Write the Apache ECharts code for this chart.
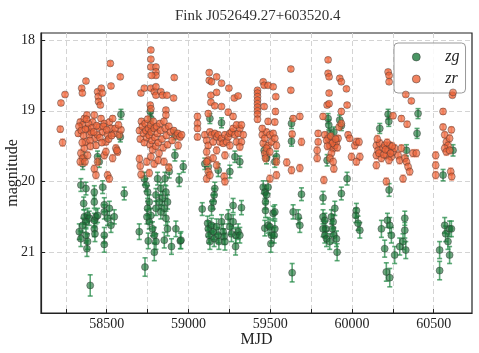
<!DOCTYPE html>
<html>
<head>
<meta charset="utf-8">
<script src="https://cdn.jsdelivr.net/npm/echarts@6/dist/echarts.min.js"></script>
<style>
	html, body { margin: 0; padding: 0; background: #fff; }
	#chart { width: 479px; height: 353px; }
</style>
</head>
<body>
<div id="chart"></div>
<script>
	var chartTitle = 'Fink J052649.27+603520.4';
	var xTicks = [58250, 58500, 58750, 59000, 59250, 59500, 59750, 60000, 60250, 60500];
	var xLabels = [58500, 59000, 59500, 60000, 60500];
	var yTicks = [18, 19, 20, 21];

	// [MJD, magnitude, error]
	var zg = [
		[58587,19.05,0.07],[58583,19.37,0.07],[58353,19.75,0.08],[58359,19.67,0.08],[58444,19.65,0.08],[58454,19.72,0.08],
		[58342,20.05,0.09],[58373,20.10,0.09],[58424,20.15,0.09],[58475,20.08,0.09],[58607,20.17,0.09],[58359,20.31,0.09],
		[58424,20.29,0.09],[58485,20.33,0.10],[58516,20.38,0.10],[58363,20.50,0.10],[58383,20.48,0.10],[58393,20.52,0.10],
		[58373,20.57,0.10],[58353,20.62,0.10],[58424,20.55,0.10],[58434,20.50,0.10],[58444,20.48,0.10],[58485,20.43,0.10],
		[58505,20.52,0.10],[58526,20.62,0.10],[58546,20.50,0.10],[58332,20.71,0.11],[58342,20.81,0.11],[58373,20.76,0.11],
		[58383,20.85,0.11],[58379,20.95,0.11],[58424,20.67,0.11],[58428,20.74,0.11],[58485,20.76,0.11],[58485,20.89,0.11],
		[58399,21.47,0.15],
		[58766,19.01,0.07],[58770,19.11,0.07],[58770,19.25,0.07],[58913,19.34,0.07],[58943,19.98,0.09],[58730,19.96,0.09],
		[58740,20.05,0.09],[58750,20.15,0.09],[58760,20.29,0.10],[58750,20.38,0.10],[58770,20.48,0.10],[58760,20.57,0.10],
		[58780,20.67,0.10],[58791,20.76,0.11],[58801,20.85,0.11],[58791,21.00,0.12],[58734,21.21,0.13],[58699,20.71,0.11],
		[58746,20.50,0.10],[58754,20.84,0.11],[58811,19.96,0.09],[58831,20.10,0.09],[58841,20.24,0.10],[58852,20.38,0.10],
		[58862,20.52,0.10],[58872,20.67,0.10],[58852,20.83,0.11],[58896,20.92,0.11],[58923,20.67,0.11],[58950,20.84,0.11],
		[58856,19.96,0.09],[58862,20.15,0.09],[58872,20.29,0.10],[58882,19.86,0.09],[58801,20.19,0.09],[58801,20.38,0.10],
		[58821,20.29,0.10],[58831,20.43,0.10],[58917,19.63,0.08],[58968,19.79,0.08],[58954,20.83,0.12],
		[59131,19.11,0.07],[59202,19.17,0.07],[59284,19.65,0.08],[59314,19.72,0.08],[59253,19.86,0.09],[59182,19.84,0.09],
		[59100,19.75,0.08],[59121,19.79,0.08],[59161,20.10,0.09],[59157,20.19,0.09],[59151,20.29,0.10],[59141,20.38,0.10],
		[59084,20.39,0.09],[59273,20.34,0.10],[59324,20.37,0.10],[59117,20.59,0.10],[59121,20.67,0.11],[59125,20.76,0.11],
		[59131,20.85,0.11],[59141,20.62,0.10],[59151,20.71,0.11],[59157,20.81,0.11],[59172,20.64,0.11],[59182,20.76,0.11],
		[59186,20.85,0.11],[59202,20.57,0.10],[59212,20.71,0.11],[59218,20.78,0.11],[59223,20.85,0.12],[59243,20.50,0.10],
		[59253,20.64,0.11],[59263,20.74,0.11],[59273,20.57,0.10],[59290,20.76,0.11],[59304,20.71,0.11],[59314,20.76,0.11],
		[59288,20.92,0.12],
		[59463,19.56,0.08],[59477,19.63,0.08],[59477,19.67,0.08],[59528,19.72,0.08],[59538,19.65,0.08],[59457,20.08,0.09],
		[59467,20.15,0.09],[59477,20.19,0.09],[59487,20.08,0.09],[59471,20.29,0.10],[59471,20.41,0.10],[59518,20.45,0.10],
		[59528,20.43,0.10],[59467,20.66,0.11],[59487,20.62,0.11],[59498,20.64,0.11],[59508,20.76,0.11],[59528,20.67,0.11],
		[59524,20.76,0.11],[59504,20.88,0.12],[59630,19.18,0.07],[59630,19.43,0.07],[59691,20.18,0.09],[59640,20.43,0.10],
		[59671,20.50,0.10],[59681,20.62,0.10],[59634,21.29,0.13],
		[59854,19.11,0.07],[59858,19.20,0.07],[59864,19.32,0.07],[59889,19.30,0.07],[59925,19.13,0.07],[59935,19.21,0.07],
		[59848,19.70,0.08],[59970,19.96,0.09],[59935,20.17,0.09],[59823,20.23,0.09],[59823,20.50,0.10],[59834,20.55,0.10],
		[59840,20.67,0.11],[59834,20.76,0.11],[59844,20.81,0.11],[59874,20.50,0.10],[59885,20.57,0.10],[59895,20.38,0.10],
		[59880,20.67,0.11],[59889,20.76,0.11],[59905,20.81,0.11],[59909,21.00,0.12],[59864,20.85,0.11],[59823,20.67,0.11],
		[60027,20.41,0.10],[60023,20.48,0.10],[60037,20.59,0.10],[60048,20.69,0.11],
		[60170,19.25,0.07],[60221,19.05,0.07],[60225,19.15,0.07],[60404,19.04,0.07],[60398,19.32,0.07],[60333,19.56,0.08],
		[60227,20.12,0.09],[60180,20.67,0.12],[60217,20.55,0.10],[60231,20.62,0.11],[60200,20.95,0.12],[60241,20.76,0.11],
		[60210,21.28,0.13],[60231,21.36,0.13],[60261,21.04,0.12],[60292,20.92,0.12],[60323,20.52,0.10],[60323,20.69,0.11],
		[60312,20.85,0.11],[60329,20.97,0.12],
		[60557,19.91,0.08],[60618,19.56,0.08],[60567,20.62,0.11],[60573,20.74,0.11],[60587,20.85,0.11],[60597,20.67,0.11],
		[60608,20.67,0.11],[60597,21.04,0.12],[60536,20.97,0.12],[60536,21.26,0.13]
	];

	var zr = [
		[58220,18.89,0.03],[58245,18.77,0.03],[58216,19.26,0.04],[58230,19.45,0.05],[58347,18.68,0.03],[58351,18.75,0.03],
		[58373,18.58,0.03],[58444,18.73,0.03],[58448,18.80,0.03],[58450,18.87,0.03],[58461,18.92,0.03],[58467,18.68,0.03],
		[58473,18.75,0.03],[58522,18.33,0.03],[58526,18.65,0.03],[58583,18.52,0.03],
		[58326,19.32,0.04],[58338,19.16,0.04],[58353,19.20,0.04],[58363,19.11,0.04],[58379,19.06,0.04],[58383,19.25,0.04],
		[58393,19.34,0.04],[58404,19.30,0.04],[58414,19.16,0.04],[58424,19.06,0.04],[58428,19.39,0.04],[58434,19.49,0.04],
		[58444,19.34,0.04],[58454,19.23,0.04],[58465,19.11,0.04],[58475,19.30,0.04],[58485,19.18,0.04],[58495,19.44,0.04],
		[58505,19.34,0.04],[58516,19.16,0.04],[58526,19.25,0.04],[58536,19.11,0.04],[58546,19.32,0.04],[58556,19.53,0.05],
		[58566,19.58,0.05],[58577,19.34,0.04],[58587,19.27,0.04],[58342,19.60,0.05],[58353,19.67,0.05],[58363,19.53,0.05],
		[58373,19.44,0.04],[58424,19.82,0.05],[58434,19.91,0.05],[58444,19.72,0.05],[58485,19.63,0.05],[58495,19.58,0.05],
		[58505,19.91,0.05],[58516,19.96,0.05],[58536,19.67,0.05],[58562,19.56,0.05],[58383,19.63,0.05],[58338,19.72,0.05],
		[58367,19.72,0.05],[58330,19.22,0.04],[58345,19.28,0.04],[58358,19.35,0.04],[58370,19.26,0.04],[58388,19.18,0.04],
		[58398,19.42,0.04],[58410,19.24,0.04],[58420,19.30,0.04],[58438,19.21,0.04],[58458,19.38,0.04],[58470,19.45,0.04],
		[58480,19.22,0.04],[58500,19.27,0.04],[58512,19.40,0.04],[58530,19.35,0.04],[58552,19.25,0.04],[58572,19.20,0.04],
		[58400,19.50,0.05],[58376,19.12,0.04],[58350,19.45,0.05],
		[58770,18.14,0.03],[58770,18.27,0.03],[58770,18.38,0.03],[58801,18.38,0.03],[58801,18.45,0.03],[58801,18.50,0.03],
		[58774,18.50,0.03],[58709,18.75,0.03],[58730,18.68,0.03],[58770,18.68,0.03],[58791,18.73,0.03],[58801,18.66,0.03],
		[58801,18.78,0.03],[58831,18.73,0.03],[58841,18.78,0.03],[58868,18.78,0.03],[58913,18.53,0.03],[58909,18.82,0.03],
		[58766,18.92,0.03],[58770,18.97,0.03],[58862,18.99,0.03],[58862,19.06,0.04],
		[58700,19.28,0.04],[58705,19.40,0.04],[58712,19.15,0.04],[58718,19.22,0.04],[58725,19.32,0.04],[58730,19.45,0.04],
		[58735,19.18,0.04],[58740,19.28,0.04],[58745,19.38,0.04],[58750,19.12,0.04],[58755,19.25,0.04],[58760,19.35,0.04],
		[58765,19.48,0.04],[58768,19.20,0.04],[58772,19.30,0.04],[58776,19.42,0.04],[58780,19.55,0.05],[58785,19.15,0.04],
		[58790,19.25,0.04],[58795,19.38,0.04],[58800,19.50,0.04],[58805,19.22,0.04],[58810,19.32,0.04],[58815,19.45,0.04],
		[58820,19.60,0.05],[58825,19.18,0.04],[58830,19.28,0.04],[58838,19.40,0.04],[58845,19.52,0.05],[58850,19.15,0.04],
		[58858,19.25,0.04],[58865,19.35,0.04],[58872,19.48,0.04],[58880,19.22,0.04],[58890,19.30,0.04],[58900,19.42,0.04],
		[58910,19.28,0.04],[58925,19.35,0.04],[58700,19.68,0.05],[58705,19.78,0.05],[58745,19.72,0.05],[58770,19.65,0.05],
		[58790,19.75,0.05],[58815,19.70,0.05],[58850,19.72,0.05],[58880,19.80,0.05],[58710,19.90,0.05],[58760,19.88,0.05],
		[58935,19.32,0.04],[58948,19.37,0.04],[58958,19.34,0.04],[58937,19.49,0.05],
		[59127,18.46,0.03],[59127,18.57,0.03],[59141,18.59,0.03],[59172,18.52,0.03],[59202,18.61,0.03],[59247,18.68,0.03],
		[59280,18.82,0.03],[59304,18.79,0.03],[59137,18.78,0.03],[59137,18.88,0.03],[59172,18.74,0.03],[59161,18.93,0.03],
		[59202,18.94,0.03],[59243,19.02,0.04],[59273,19.08,0.04],[59055,19.08,0.04],[59055,19.18,0.04],[59055,19.25,0.04],
		[59055,19.37,0.04],[59121,19.04,0.04],
		[59100,19.34,0.04],[59111,19.42,0.04],[59121,19.49,0.04],[59131,19.30,0.04],[59141,19.34,0.04],[59151,19.44,0.04],
		[59161,19.32,0.04],[59172,19.37,0.04],[59182,19.34,0.04],[59192,19.44,0.04],[59202,19.39,0.04],[59212,19.46,0.04],
		[59223,19.34,0.04],[59233,19.44,0.04],[59243,19.37,0.04],[59253,19.32,0.04],[59263,19.30,0.04],[59273,19.25,0.04],
		[59284,19.34,0.04],[59294,19.44,0.04],[59304,19.32,0.04],[59314,19.25,0.04],[59324,19.44,0.04],[59335,19.34,0.04],
		[59314,19.51,0.05],[59111,19.58,0.05],[59121,19.70,0.05],[59151,19.67,0.05],[59111,19.72,0.05],[59172,19.56,0.05],
		[59223,19.63,0.05],[59253,19.49,0.05],[59294,19.20,0.04],[59324,19.20,0.04],[59111,19.96,0.05],[59121,19.86,0.05],
		[59131,19.91,0.05],[59218,19.93,0.05],[59223,20.00,0.05],[59172,19.77,0.05],
		[59422,18.71,0.03],[59422,18.75,0.03],[59422,18.80,0.03],[59422,18.85,0.03],[59422,18.90,0.03],[59422,18.95,0.03],
		[59422,19.00,0.03],[59422,19.05,0.03],[59422,19.12,0.04],[59457,18.59,0.03],[59463,18.64,0.03],[59487,18.64,0.03],
		[59518,18.66,0.03],[59534,18.80,0.03],[59463,18.94,0.03],[59532,19.01,0.04],[59487,19.15,0.04],[59528,19.16,0.04],
		[59451,19.34,0.04],[59457,19.46,0.04],[59467,19.39,0.04],[59477,19.30,0.04],[59487,19.49,0.04],[59498,19.34,0.04],
		[59508,19.44,0.04],[59518,19.32,0.04],[59528,19.39,0.04],[59467,19.60,0.05],[59471,19.67,0.05],[59477,19.53,0.05],
		[59498,19.58,0.05],[59538,19.49,0.05],[59451,19.25,0.04],[59498,19.96,0.05],[59538,19.72,0.05],[59538,19.91,0.05],
		[59626,18.41,0.03],[59626,18.71,0.03],[59640,19.11,0.04],[59681,19.08,0.04],[59634,19.33,0.04],[59691,19.44,0.05],
		[59601,19.73,0.05],[59630,19.84,0.05],[59681,19.81,0.05],
		[59854,18.28,0.03],[59854,18.47,0.03],[59860,18.52,0.03],[59925,18.54,0.03],[59935,18.59,0.03],[59966,18.69,0.03],
		[59860,18.75,0.03],[59848,18.92,0.03],[59860,18.90,0.03],[59970,18.92,0.03],[59935,19.01,0.04],[59823,19.08,0.04],
		[59921,19.23,0.04],[59935,19.18,0.04],[59793,19.32,0.04],[59793,19.44,0.04],[59787,19.56,0.05],[59787,19.67,0.05],
		[59834,19.34,0.04],[59854,19.39,0.04],[59864,19.49,0.04],[59874,19.44,0.04],[59885,19.53,0.05],[59895,19.49,0.04],
		[59905,19.44,0.04],[59915,19.39,0.04],[59874,19.60,0.05],[59864,19.67,0.05],[59885,19.72,0.05],[59889,19.82,0.05],
		[59976,19.34,0.04],[59986,19.39,0.04],[60017,19.49,0.05],[60027,19.44,0.05],[60043,19.44,0.05],[59997,19.65,0.05],
		[60048,19.65,0.05],[60027,19.72,0.05],[59828,19.98,0.05],[59845,19.42,0.04],[59870,19.36,0.04],[59880,19.46,0.04],
		[59900,19.40,0.04],[59910,19.52,0.05],[59850,19.50,0.05],
		[60221,18.45,0.03],[60227,18.50,0.03],[60227,18.59,0.03],[60329,18.77,0.03],[60363,18.86,0.03],[60251,19.07,0.04],
		[60302,19.11,0.04],[60337,19.19,0.04],[60149,19.49,0.05],[60149,19.63,0.05],[60149,19.77,0.05],[60160,19.56,0.05],
		[60170,19.46,0.05],[60180,19.67,0.05],[60190,19.53,0.05],[60200,19.49,0.05],[60210,19.63,0.05],[60221,19.56,0.05],
		[60231,19.49,0.05],[60241,19.65,0.05],[60251,19.58,0.05],[60261,19.53,0.05],[60282,19.63,0.05],[60292,19.70,0.05],
		[60302,19.53,0.05],[60323,19.67,0.05],[60333,19.72,0.05],[60343,19.79,0.05],[60353,19.86,0.05],[60312,19.96,0.05],
		[60373,19.60,0.05],[60394,19.60,0.05],[60210,20.00,0.05],[60155,19.40,0.05],[60165,19.60,0.05],[60195,19.62,0.05],
		[60205,19.55,0.05],[60215,19.45,0.05],[60226,19.70,0.05],[60236,19.60,0.05],[60246,19.50,0.05],
		[60557,19.01,0.04],[60614,18.78,0.03],[60618,18.74,0.03],[60557,19.23,0.04],[60567,19.34,0.04],[60577,19.44,0.05],
		[60587,19.49,0.05],[60597,19.39,0.05],[60567,19.53,0.05],[60577,19.58,0.05],[60597,19.56,0.05],[60512,19.63,0.05],
		[60512,19.77,0.05],[60512,19.91,0.05],[60604,19.86,0.05],[60610,19.93,0.05],[60608,19.27,0.04]
	];

	var serif = 'Liberation Serif';

	function errorBars(color, width) {
		return function(params, api) {
			var x = api.value(0);
			var y = api.value(1);
			var e = api.value(2);
			var top = api.coord([x, y - e]);
			var bot = api.coord([x, y + e]);
			var style = { stroke: color, lineWidth: width };
			return {
				type: 'group',
				children: [
					{ type: 'line', shape: { x1: top[0], y1: top[1], x2: bot[0], y2: bot[1] }, style: style },
					{ type: 'line', shape: { x1: top[0] - 2.5, y1: top[1], x2: top[0] + 2.5, y2: top[1] }, style: style },
					{ type: 'line', shape: { x1: bot[0] - 2.5, y1: bot[1], x2: bot[0] + 2.5, y2: bot[1] }, style: style }
				]
			};
		};
	}

	var chart = echarts.init(document.getElementById('chart'), null, { renderer: 'canvas' });

	var option = {
		animation: false,
		title: {
			text: chartTitle,
			left: 170,
			top: 4,
			textStyle: { fontFamily: serif, fontSize: 15, fontWeight: 'normal', color: '#333' }
		},
		legend: {
			orient: 'vertical',
			left: 394,
			top: 43,
			padding: [6, 6, 6, 18],
			itemGap: 6,
			itemWidth: 8,
			itemHeight: 8,
			borderColor: '#999',
			borderWidth: 1,
			borderRadius: 4,
			backgroundColor: 'rgba(255,255,255,0.85)',
			data: [
				{ name: 'zg', icon: 'circle', itemStyle: { color: '#1c7a3c', borderColor: '#333', borderWidth: 0.6 } },
				{ name: 'zr', icon: 'circle', itemStyle: { color: '#ee6438', borderColor: '#333', borderWidth: 0.6 } }
			],
			textStyle: { fontFamily: serif, fontStyle: 'italic', fontSize: 16, color: '#222', padding: [0, 0, 0, 20] }
		},
		grid: {
			left: 41,
			right: 7,
			top: 33,
			bottom: 40,
			outerBoundsMode: 'none',
			show: true,
			borderColor: '#222',
			borderWidth: 1.2,
			backgroundColor: 'transparent'
		},
		xAxis: {
			type: 'value',
			min: 58098,
			max: 60734,
			name: 'MJD',
			nameLocation: 'middle',
			nameGap: 19,
			nameMoveOverlap: false,
			nameTextStyle: { fontFamily: serif, fontSize: 16, color: '#222' },
			axisLine: { show: true, lineStyle: { color: '#222', width: 1.2 } },
			axisTick: { show: true, inside: true, length: 4, customValues: xTicks, lineStyle: { color: '#222' } },
			axisLabel: {
				customValues: xLabels,
				fontFamily: serif,
				fontSize: 14,
				color: '#222',
				margin: 4,
				formatter: function(v) { return String(v); }
			},
			splitLine: { show: true, lineStyle: { color: '#d4d4d4', type: [5, 3], width: 1 } }
		},
		yAxis: {
			type: 'value',
			inverse: true,
			min: 17.9,
			max: 21.86,
			name: 'magnitude',
			nameLocation: 'middle',
			nameGap: 20,
			nameMoveOverlap: false,
			nameTextStyle: { fontFamily: serif, fontSize: 16, color: '#222' },
			axisLine: { show: true, lineStyle: { color: '#222', width: 1.2 } },
			axisTick: { show: true, inside: true, length: 4, customValues: yTicks, lineStyle: { color: '#222' } },
			axisLabel: {
				customValues: yTicks,
				fontFamily: serif,
				fontSize: 14,
				color: '#222',
				margin: 6,
				formatter: function(v) { return String(v); }
			},
			splitLine: { show: true, lineStyle: { color: '#d4d4d4', type: [5, 3], width: 1 } }
		},
		series: [
			{
				name: 'zg-err',
				type: 'custom',
				renderItem: errorBars('rgba(40,140,75,0.75)', 1.6),
				encode: { x: 0, y: 1 },
				data: zg,
				z: 1
			},
			{
				name: 'zg',
				type: 'scatter',
				symbolSize: 7,
				data: zg,
				itemStyle: { color: 'rgba(24,110,52,0.78)', borderColor: 'rgba(50,50,50,0.7)', borderWidth: 0.8 },
				z: 2
			},
			{
				name: 'zr-err',
				type: 'custom',
				renderItem: errorBars('rgba(250,140,105,0.75)', 1.5),
				encode: { x: 0, y: 1 },
				data: zr,
				z: 3
			},
			{
				name: 'zr',
				type: 'scatter',
				symbolSize: 7,
				data: zr,
				itemStyle: { color: 'rgba(238,100,56,0.85)', borderColor: 'rgba(50,50,50,0.65)', borderWidth: 0.8 },
				z: 4
			}
		]
	};

	chart.setOption(option);
</script>
</body>
</html>
